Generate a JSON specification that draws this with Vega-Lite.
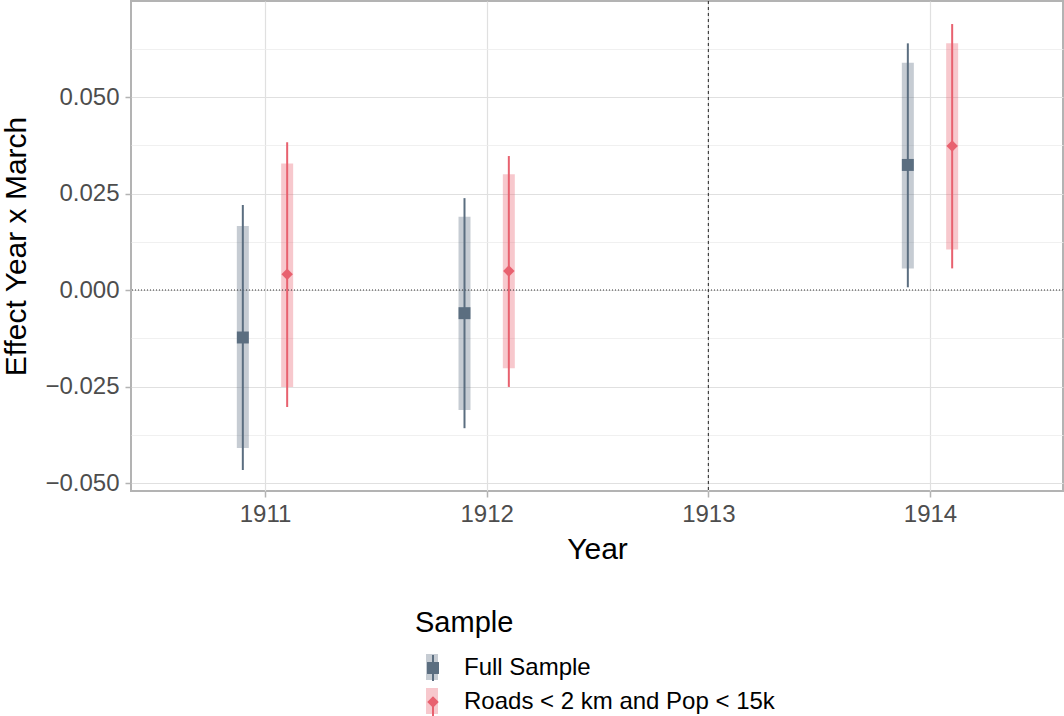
{
  "$schema": "https://vega.github.io/schema/vega-lite/v6.json",
  "width": 932,
  "height": 490,
  "autosize": "none",
  "padding": {"left": 131, "top": 1, "right": 1, "bottom": 225},
  "background": "white",
  "config": {
    "font": "Liberation Sans",
    "view": {"stroke": "#b3b3b3", "strokeWidth": 2},
    "axis": {
      "domain": false,
      "labelFont": "Liberation Sans",
      "labelFontSize": 24,
      "labelColor": "#4d4d4d",
      "tickColor": "#b3b3b3",
      "tickSize": 6,
      "tickWidth": 1.5,
      "gridColor": "#e0e0e0",
      "gridWidth": 1.2,
      "titleFont": "Liberation Sans",
      "titleFontSize": 30,
      "titleFontWeight": "normal",
      "titleColor": "#000000"
    },
    "legend": {
      "titleFont": "Liberation Sans",
      "titleFontSize": 29,
      "titleFontWeight": "normal",
      "titleColor": "#000000",
      "labelFont": "Liberation Sans",
      "labelFontSize": 24,
      "labelColor": "#000000",
      "labelLimit": 500,
      "labelOffset": 17,
      "rowPadding": 8,
      "titlePadding": 16,
      "padding": 0,
      "symbolSize": 676,
      "symbolOffset": 4,
      "orient": "none",
      "legendX": 284,
      "legendY": 608
    }
  },
  "data": {
    "values": [
      {"year": 1911, "sample": "Full Sample", "est": -0.0123, "lo95": -0.0466, "hi95": 0.0220, "lo90": -0.0409, "hi90": 0.0166},
      {"year": 1911, "sample": "Roads < 2 km and Pop < 15k", "est": 0.0041, "lo95": -0.0303, "hi95": 0.0383, "lo90": -0.0251, "hi90": 0.0328},
      {"year": 1912, "sample": "Full Sample", "est": -0.0060, "lo95": -0.0358, "hi95": 0.0238, "lo90": -0.0311, "hi90": 0.0190},
      {"year": 1912, "sample": "Roads < 2 km and Pop < 15k", "est": 0.0049, "lo95": -0.0251, "hi95": 0.0347, "lo90": -0.0203, "hi90": 0.0300},
      {"year": 1914, "sample": "Full Sample", "est": 0.0324, "lo95": 0.0007, "hi95": 0.0639, "lo90": 0.0056, "hi90": 0.0589},
      {"year": 1914, "sample": "Roads < 2 km and Pop < 15k", "est": 0.0373, "lo95": 0.0056, "hi95": 0.0689, "lo90": 0.0105, "hi90": 0.0639}
    ]
  },
  "transform": [
    {"calculate": "datum.year + (datum.sample == 'Full Sample' ? -0.1 : 0.1)", "as": "xpos"}
  ],
  "layer": [
    {
      "data": {"values": [{"x": 1913}]},
      "mark": {"type": "rule", "strokeDash": [3, 3], "color": "#222222", "strokeWidth": 1},
      "encoding": {
        "x": {"field": "x", "type": "quantitative", "title": "Year"}
      }
    },
    {
      "mark": {"type": "bar", "orient": "vertical", "size": 12, "opacity": 0.35},
      "encoding": {
        "x": {
          "field": "xpos", "type": "quantitative", "title": "Year",
          "scale": {"domain": [1910.3955, 1914.6], "nice": false, "zero": false, "padding": 0},
          "axis": {"values": [1911, 1912, 1913, 1914], "format": "d", "labelPadding": 5, "titlePadding": 8, "grid": true}
        },
        "y": {
          "field": "lo90", "type": "quantitative",
          "scale": {"domain": [-0.05207, 0.07487], "nice": false, "zero": false, "padding": 0},
          "axis": {"values": [-0.05, -0.025, 0, 0.025, 0.05], "format": ".3f", "grid": true, "title": "Effect Year x March", "labelPadding": 6, "titlePadding": 13}
        },
        "y2": {"field": "hi90"},
        "color": {
          "field": "sample", "type": "nominal",
          "scale": {"domain": ["Full Sample", "Roads < 2 km and Pop < 15k"], "range": ["#5b6e80", "#e8616f"]},
          "legend": {"title": "Sample", "symbolType": "M-0.46,-1H0.46V1H-0.46Z", "symbolOpacity": 0.35, "symbolStrokeWidth": 0, "labelExpr": "''", "titleOpacity": 0, "titleColor": "transparent", "zindex": 1}
        }
      }
    },
    {
      "data": {"values": [{"y": 0}]},
      "mark": {"type": "rule", "strokeDash": [1, 2], "color": "#333333", "strokeWidth": 1},
      "encoding": {
        "y": {"field": "y", "type": "quantitative", "axis": null}
      }
    },
    {
      "mark": {"type": "rule", "strokeWidth": 2},
      "encoding": {
        "x": {"field": "xpos", "type": "quantitative", "title": "Year"},
        "y": {
          "field": "lo95", "type": "quantitative",
          "axis": {"orient": "right", "values": [-0.0375, -0.0125, 0.0125, 0.0375, 0.0625], "grid": true, "gridColor": "#ececec", "gridWidth": 0.8, "ticks": false, "labels": false, "domain": false, "title": null}
        },
        "y2": {"field": "hi95"},
        "color": {
          "field": "sample", "type": "nominal",
          "legend": {"title": "Sample", "symbolType": "M0,-1V1", "symbolStrokeWidth": 2, "labelExpr": "''", "titleOpacity": 0, "titleColor": "transparent", "zindex": 2}
        }
      }
    },
    {
      "mark": {"type": "point", "filled": true, "size": 676, "opacity": 1},
      "encoding": {
        "x": {"field": "xpos", "type": "quantitative", "title": "Year"},
        "y": {"field": "est", "type": "quantitative", "axis": null},
        "color": {
          "field": "sample", "type": "nominal",
          "legend": {"title": "Sample", "zindex": 3}
        },
        "shape": {
          "field": "sample", "type": "nominal",
          "scale": {"domain": ["Full Sample", "Roads < 2 km and Pop < 15k"], "range": ["M-0.46,-0.46H0.46V0.46H-0.46Z", "M0,-0.44L0.44,0L0,0.44L-0.44,0Z"]},
          "legend": {"title": "Sample", "zindex": 3}
        }
      }
    }
  ],
  "resolve": {
    "axis": {"y": "independent"},
    "legend": {"color": "independent", "shape": "independent"}
  }
}
